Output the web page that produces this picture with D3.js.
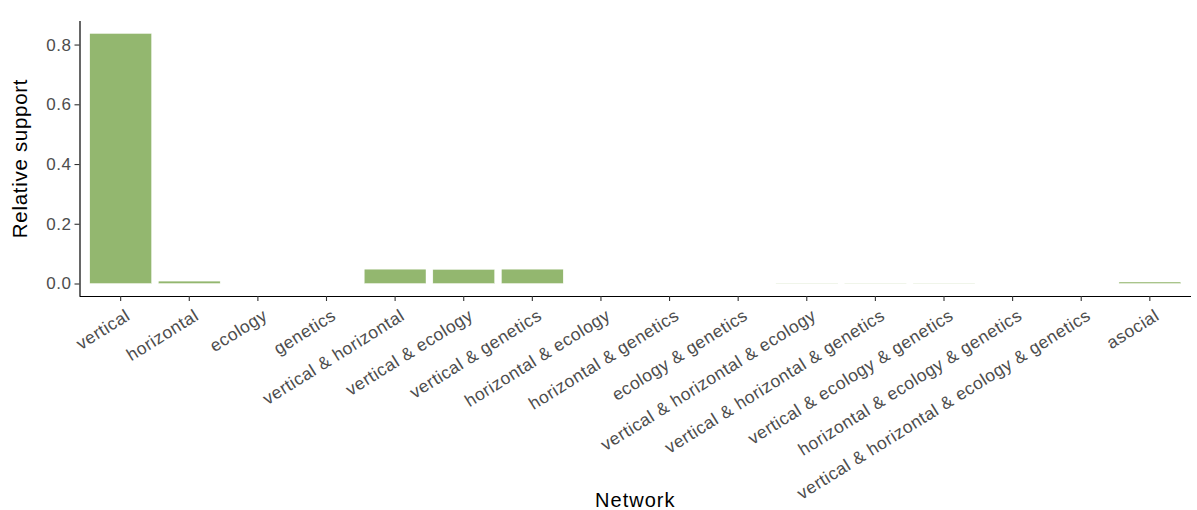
<!DOCTYPE html>
<html>
<head>
<meta charset="utf-8">
<script src="https://cdn.jsdelivr.net/npm/d3@7"></script>
<style>
  html, body { margin: 0; padding: 0; background: #fff; }
  svg text { font-family: "Liberation Sans", Arial, sans-serif; }
</style>
</head>
<body>
<svg id="chart" width="1197" height="510"></svg>
<script>
// Relative support for each candidate transmission network
const networks = [
  "vertical", "horizontal", "ecology", "genetics",
  "vertical & horizontal", "vertical & ecology", "vertical & genetics",
  "horizontal & ecology", "horizontal & genetics", "ecology & genetics",
  "vertical & horizontal & ecology", "vertical & horizontal & genetics",
  "vertical & ecology & genetics", "horizontal & ecology & genetics",
  "vertical & horizontal & ecology & genetics", "asocial"
];
const support = [
  0.837, 0.008, 0, 0,
  0.048, 0.047, 0.048,
  0, 0, 0,
  0.0008, 0.0008,
  0.0008, 0,
  0, 0.005
];
const yTicks = [0, 0.2, 0.4, 0.6, 0.8];

(function draw() {
  const svg = d3.select("#chart");
  const plot = { left: 79.5, right: 1191, top: 21, bottom: 296 };

  const x = d3.scaleBand()
    .domain(networks)
    .range([plot.left, plot.right])
    .paddingInner(0.1)
    .paddingOuter(0.15);

  const yMax = d3.max(support);
  const pad = yMax * 0.05;
  const y = d3.scaleLinear()
    .domain([-pad, yMax + pad])
    .range([plot.bottom, plot.top]);

  const data = networks.map((n, i) => ({ network: n, value: support[i] }));

  // bars
  svg.append("g")
    .selectAll("rect")
    .data(data)
    .join("rect")
    .attr("x", d => x(d.network))
    .attr("width", x.bandwidth())
    .attr("y", d => y(d.value))
    .attr("height", d => y(0) - y(d.value))
    .attr("fill", "#93b76f")
    .attr("stroke", "#ffffff")
    .attr("stroke-width", 0.4);

  // y axis
  const yAxis = svg.append("g")
    .attr("transform", `translate(${plot.left},0)`)
    .call(d3.axisLeft(y).tickValues(yTicks).tickFormat(d3.format(".1f")).tickSize(5).tickPadding(3));
  yAxis.select(".domain").attr("stroke", "#000").attr("stroke-width", 1.2)
    .attr("d", `M0.5,${plot.top}V${plot.bottom}`);
  yAxis.selectAll(".tick line").attr("stroke", "#333").attr("stroke-width", 1.1);
  yAxis.selectAll(".tick text")
    .attr("fill", "#4d4d4d")
    .style("font-size", "17px")
    .style("letter-spacing", "0.5px");

  // x axis
  const xAxis = svg.append("g")
    .attr("transform", `translate(0,${plot.bottom})`)
    .call(d3.axisBottom(x).tickSize(5).tickSizeOuter(0));
  xAxis.select(".domain").attr("stroke", "#000").attr("stroke-width", 1.2)
    .attr("d", `M${plot.left},0.5H${plot.right}`);
  xAxis.selectAll(".tick line").attr("stroke", "#333").attr("stroke-width", 1.1);
  xAxis.selectAll(".tick text")
    .attr("fill", "#4d4d4d")
    .style("font-size", "17.5px")
    .style("letter-spacing", "0.5px")
    .attr("text-anchor", "end")
    .attr("x", 0).attr("y", 0)
    .attr("dy", "0.72em")
    .attr("transform", "translate(4,12) rotate(-32)");

  // axis titles
  svg.append("text")
    .attr("x", (plot.left + plot.right) / 2)
    .attr("y", 507)
    .attr("text-anchor", "middle")
    .style("font-size", "20px")
    .style("letter-spacing", "1px")
    .attr("fill", "#000")
    .text("Network");

  svg.append("text")
    .attr("transform", `translate(27,${(plot.top + plot.bottom) / 2}) rotate(-90)`)
    .attr("text-anchor", "middle")
    .style("font-size", "20.5px")
    .style("letter-spacing", "0.7px")
    .attr("fill", "#000")
    .text("Relative support");
})();
</script>
</body>
</html>
